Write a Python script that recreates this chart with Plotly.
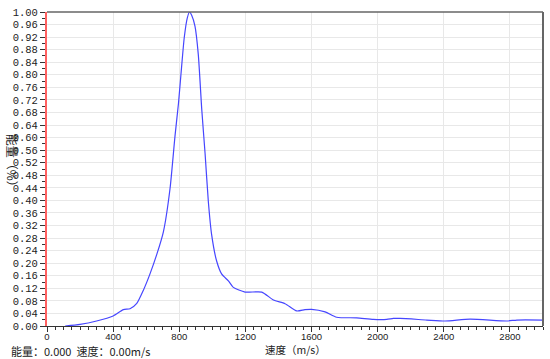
import plotly.graph_objects as go

speed = [110, 200, 300, 400, 462, 502, 543, 583, 623, 664, 704, 744, 774, 795,
         810, 830, 848, 862, 875, 895, 915, 936, 956, 976, 996, 1026, 1057, 1097,
         1127, 1198, 1299, 1369, 1440, 1510, 1560, 1600, 1682, 1752, 1873, 1974,
         2055, 2095, 2135, 2297, 2408, 2559, 2781, 2842, 3000]
energy = [0.0, 0.005, 0.016, 0.032, 0.052, 0.055, 0.072, 0.114, 0.166, 0.228,
          0.30, 0.437, 0.604, 0.708, 0.80, 0.918, 0.98, 1.0, 0.99, 0.955, 0.865,
          0.69, 0.55, 0.395, 0.29, 0.207, 0.165, 0.144, 0.123, 0.108, 0.108,
          0.083, 0.071, 0.048, 0.052, 0.053, 0.045, 0.028, 0.026, 0.021, 0.021,
          0.024, 0.024, 0.019, 0.016, 0.022, 0.016, 0.019, 0.019]

x_ticks = [0, 400, 800, 1200, 1600, 2000, 2400, 2800]
y_ticks = [round(i * 0.04, 2) for i in range(26)]

fig = go.Figure()
fig.add_trace(go.Scatter(x=speed, y=energy, mode="lines",
                         line=dict(color="#4646ff", width=1.2, shape="spline", smoothing=0.6),
                         hoverinfo="skip"))

ytickfont = dict(family="Liberation Mono, DejaVu Sans Mono, monospace", size=10.5, color="#222222")
xtickfont = dict(family="Liberation Sans, Arial, sans-serif", size=9.5, color="#222222")

fig.update_layout(
    width=550, height=359,
    margin=dict(l=47, r=7, t=7, b=33),
    paper_bgcolor="white", plot_bgcolor="white",
    showlegend=False,
    xaxis=dict(range=[0, 3000], tickvals=x_ticks, ticktext=[str(v) for v in x_ticks],
               showgrid=True, gridcolor="#e8e8e8", gridwidth=1,
               showline=True, linecolor="#333333", linewidth=1,
               ticks="outside", ticklen=5, tickcolor="#333333",
               minor=dict(dtick=50, ticks="outside", ticklen=3, tickcolor="#333333", showgrid=False),
               tickfont=xtickfont, ticklabelstandoff=-3, zeroline=False, fixedrange=True),
    yaxis=dict(range=[0, 1], tickvals=y_ticks, ticktext=[f"{v:.2f}" for v in y_ticks],
               showgrid=True, gridcolor="#e8e8e8", gridwidth=1,
               showline=True, linecolor="#ff6060", linewidth=2,
               ticks="outside", ticklen=5, tickcolor="#333333",
               minor=dict(dtick=0.02, ticks="outside", ticklen=3, tickcolor="#333333", showgrid=False),
               tickfont=ytickfont, zeroline=False, fixedrange=True),
    shapes=[
        dict(type="line", xref="paper", yref="paper", x0=0, x1=1, y0=1, y1=1,
             line=dict(color="#666666", width=1.5)),
        dict(type="line", xref="paper", yref="paper", x0=1, x1=1, y0=0, y1=1,
             line=dict(color="#666666", width=2)),
    ],
    annotations=[
        dict(text="速度（m/s）", xref="paper", yref="paper", x=0.5, y=0, yshift=-23.5,
             xanchor="center", yanchor="middle", showarrow=False,
             font=dict(family="Noto Sans CJK SC", size=10.5, color="#222222")),
        dict(text="能量（%）", xref="paper", yref="paper", x=0, xshift=-35, y=0.52,
             xanchor="center", yanchor="middle", textangle=90, showarrow=False,
             font=dict(family="Noto Sans CJK SC", size=12, color="#222222")),
        dict(text="能量：0.000  速度：0.00m/s", xref="paper", yref="paper", x=0, xshift=-38,
             y=0, yshift=-25, xanchor="left", yanchor="middle", showarrow=False,
             font=dict(family="Noto Sans CJK SC", size=11, color="#222222")),
    ],
)

fig.write_html("out.html")
